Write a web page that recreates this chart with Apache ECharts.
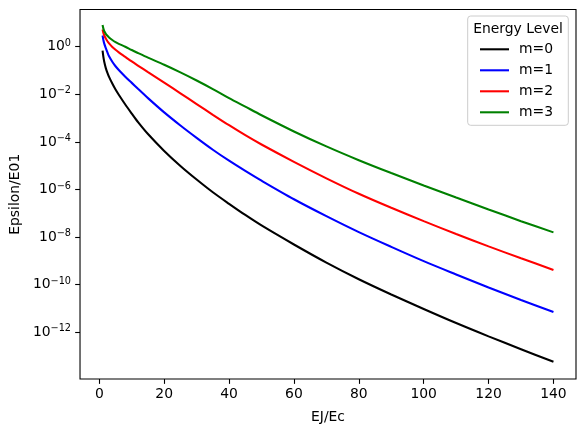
<!DOCTYPE html>
<html><head><meta charset="utf-8">
<script src="https://cdn.jsdelivr.net/npm/echarts@6/dist/echarts.min.js"></script>
<style>html,body{margin:0;padding:0;background:#fff}#c{width:584px;height:432px}</style>
</head><body><div id="c"></div>
<script>
const ejOverEc = [1, 1.25, 1.5, 2, 2.5, 3, 4, 5, 6, 8, 10, 12, 15, 20, 25, 30, 35, 40, 45, 50, 60, 70, 80, 90, 100, 110, 120, 130, 140];
const m0 = [0.676, 0.372, 0.240, 0.126, 0.0794, 0.0537, 0.0282, 0.0158, 0.00955, 0.00372, 0.00155, 6.61e-4, 2.14e-4, 4.17e-5, 9.77e-6, 2.63e-6, 7.67e-7, 2.51e-7, 8.51e-8, 3.09e-8, 4.90e-9, 8.51e-10, 1.70e-10, 3.89e-11, 9.55e-12, 2.45e-12, 6.76e-13, 1.95e-13, 5.75e-14];
const m1 = [2.95, 1.91, 1.38, 0.871, 0.575, 0.398, 0.234, 0.151, 0.105, 0.0550, 0.0302, 0.0166, 6.92e-3, 1.74e-3, 4.90e-4, 1.48e-4, 4.68e-5, 1.62e-5, 6.03e-6, 2.34e-6, 3.89e-7, 7.59e-8, 1.62e-8, 3.89e-9, 9.77e-10, 2.69e-10, 7.59e-11, 2.29e-11, 7.08e-12];
const m2 = [5.25, 3.80, 3.02, 2.19, 1.70, 1.38, 0.977, 0.741, 0.575, 0.372, 0.240, 0.158, 0.0851, 0.0309, 0.0110, 3.89e-3, 1.38e-3, 5.01e-4, 1.91e-4, 7.76e-5, 1.45e-5, 2.95e-6, 6.61e-7, 1.70e-7, 4.68e-8, 1.35e-8, 4.07e-9, 1.29e-9, 4.17e-10];
const m3 = [8.13, 5.75, 4.57, 3.47, 2.88, 2.45, 1.91, 1.55, 1.32, 1.00, 0.724, 0.537, 0.347, 0.174, 0.0832, 0.0380, 0.0166, 6.92e-3, 3.02e-3, 1.32e-3, 2.75e-4, 6.46e-5, 1.70e-5, 4.90e-6, 1.48e-6, 4.57e-7, 1.45e-7, 4.68e-8, 1.58e-8];
const seriesNames = ['m=0', 'm=1', 'm=2', 'm=3'];
const seriesColors = ['#000000', '#0000ff', '#ff0000', '#008000'];
const xTicks = [0, 20, 40, 60, 80, 100, 120, 140];
const yTicks = [1e-12, 1e-10, 1e-8, 1e-6, 1e-4, 1e-2, 1];
const xLabel = 'EJ/Ec';
const yLabel = 'Epsilon/E01';
const legendTitle = 'Energy Level';

const FONT = 'DejaVu Sans';
const FS = 13.9;
const chart = echarts.init(document.getElementById('c'), null, {renderer: 'canvas'});
const allSeries = [m0, m1, m2, m3];

chart.setOption({
  animation: false,
  backgroundColor: '#ffffff',
  grid: {left: 79, top: 9.5, width: 497, height: 369.5, show: true, borderColor: '#000', borderWidth: 1.1, backgroundColor: 'transparent'},
  xAxis: {
    type: 'value', min: -5.95, max: 146.95,
    name: xLabel, nameLocation: 'middle', nameGap: 31,
    nameTextStyle: {fontFamily: FONT, fontSize: FS, color: '#000'},
    axisLine: {show: false, onZero: false},
    axisTick: {show: true, length: 4.86, lineStyle: {color: '#000', width: 1.1}, customValues: xTicks},
    axisLabel: {fontFamily: FONT, fontSize: FS, color: '#000', margin: 8, customValues: xTicks},
    splitLine: {show: false}
  },
  yAxis: {
    type: 'log', logBase: 10, min: Math.pow(10, -13.962), max: Math.pow(10, 1.563),
    name: yLabel, nameLocation: 'middle', nameGap: 55,
    nameTextStyle: {fontFamily: FONT, fontSize: FS, color: '#000'},
    axisLine: {show: false, onZero: false},
    axisTick: {show: true, length: 4.86, lineStyle: {color: '#000', width: 1.1}, customValues: yTicks},
    axisLabel: {
      margin: 9, customValues: yTicks,
      formatter: function (v) {
        const e = Math.round(Math.log10(v));
        const s = e < 0 ? '\u2212' + (-e) : String(e);
        return '{b|10}{s|' + s + '}';
      },
      rich: {
        b: {fontFamily: FONT, fontSize: FS, color: '#000', lineHeight: 17},
        s: {fontFamily: FONT, fontSize: 9.7, color: '#000', lineHeight: 8, verticalAlign: 'top'}
      }
    },
    splitLine: {show: false}
  },
  legend: {
    orient: 'vertical', left: 480, top: 41.3, padding: 0, itemGap: 5,
    itemWidth: 29, itemHeight: 2.08, icon: 'rect',
    data: seriesNames,
    textStyle: {fontFamily: FONT, fontSize: FS, color: '#000', lineHeight: 16, padding: [0, 0, 0, 5]},
    z: 10
  },
  graphic: [
    {type: 'rect', z: 5, shape: {x: 467.7, y: 16, width: 100.6, height: 109.3, r: 3},
     style: {fill: 'rgba(255,255,255,0.8)', stroke: '#cccccc', lineWidth: 1}},
    {type: 'text', z: 6, style: {text: legendTitle, x: 518, y: 29.5, align: 'center', verticalAlign: 'middle',
     font: FS + 'px "' + FONT + '"', fill: '#000'}}
  ],
  series: allSeries.map((vals, k) => ({
    name: seriesNames[k], type: 'line', symbol: 'none', smooth: 0.3,
    lineStyle: {color: seriesColors[k], width: 2.08}, itemStyle: {color: seriesColors[k]},
    data: ejOverEc.map((x, i) => [x, vals[i]])
  }))
});
</script></body></html>
